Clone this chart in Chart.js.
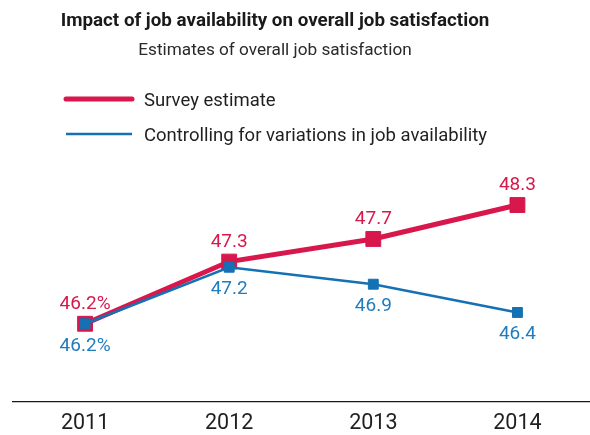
<!DOCTYPE html>
<html>
<head>
<meta charset="utf-8">
<script src="https://cdn.jsdelivr.net/npm/chart.js@4.4.1/dist/chart.umd.min.js"></script>
<style>
  html, body { margin: 0; padding: 0; background: #fff; overflow: hidden; }
  #wrap { width: 590px; height: 435px; overflow: hidden; }
</style>
</head>
<body>
<div id="wrap"><canvas id="myChart" width="601" height="446"></canvas></div>
<script>
const years = ['2011', '2012', '2013', '2014'];
const surveyEstimate = [46.2, 47.3, 47.7, 48.3];
const controlledEstimate = [46.2, 47.2, 46.9, 46.4];
const seriesNames = ['Survey estimate', 'Controlling for variations in job availability'];

const RED = '#d8174c';
const BLUE = '#1471b4';
const FONT = 'Roboto, "DejaVu Sans", sans-serif';

// first point carries the % sign, the rest are plain numbers
function fmt(v, i) {
  return i === 0 ? v.toFixed(1) + '%' : v.toFixed(1);
}

// title, subtitle and the line legend at the top
const headerPlugin = {
  id: 'header',
  afterDraw(chart) {
    const ctx = chart.ctx;
    ctx.save();
    ctx.textAlign = 'center';
    ctx.textBaseline = 'alphabetic';
    ctx.fillStyle = '#1a1a1a';
    ctx.font = 'bold 18.8px ' + FONT;
    ctx.fillText('Impact of job availability on overall job satisfaction', 275, 26);
    ctx.fillStyle = '#2a2a2a';
    ctx.font = '17.2px ' + FONT;
    ctx.fillText('Estimates of overall job satisfaction', 275, 55);

    const rows = [
      { y: 99, width: 5, color: RED, cap: 'round' },
      { y: 134, width: 2.5, color: BLUE, cap: 'butt' }
    ];
    ctx.textAlign = 'left';
    ctx.font = '18.5px ' + FONT;
    chart.data.datasets.forEach((ds, i) => {
      const r = rows[i];
      ctx.beginPath();
      ctx.lineCap = r.cap;
      ctx.strokeStyle = r.color;
      ctx.lineWidth = r.width;
      ctx.moveTo(66, r.y);
      ctx.lineTo(132, r.y);
      ctx.stroke();
      ctx.fillStyle = '#1f1f1f';
      ctx.fillText(ds.label, 144, r.y + 7);
    });
    ctx.restore();
  }
};

// value labels: red ones above the points, blue ones below
const valueLabels = {
  id: 'valueLabels',
  afterDatasetsDraw(chart) {
    const ctx = chart.ctx;
    ctx.save();
    ctx.font = '19px ' + FONT;
    ctx.textAlign = 'center';
    ctx.textBaseline = 'alphabetic';
    chart.data.datasets.forEach((ds, di) => {
      const meta = chart.getDatasetMeta(di);
      const dy = di === 0 ? -15 : 27;
      ctx.fillStyle = ds.labelColor;
      meta.data.forEach((pt, i) => {
        ctx.fillText(fmt(ds.data[i], i), pt.x, pt.y + dy);
      });
    });
    ctx.restore();
  }
};

const ctx = document.getElementById('myChart').getContext('2d');
const myChart = new Chart(ctx, {
  type: 'line',
  data: {
    labels: years,
    datasets: [{
      label: seriesNames[0],
      data: surveyEstimate,
      borderColor: RED,
      backgroundColor: RED,
      labelColor: '#d8174c',
      borderWidth: 5,
      pointStyle: 'rect',
      pointRadius: 10.5,
      pointBorderWidth: 1,
      pointBackgroundColor: RED,
      pointBorderColor: RED,
      tension: 0,
      order: 2
    }, {
      label: seriesNames[1],
      data: controlledEstimate,
      borderColor: BLUE,
      backgroundColor: BLUE,
      labelColor: '#1f7cbd',
      borderWidth: 2.5,
      pointStyle: 'rect',
      pointRadius: 7,
      pointBorderWidth: 1,
      pointBackgroundColor: BLUE,
      pointBorderColor: BLUE,
      tension: 0,
      order: 1
    }]
  },
  options: {
    responsive: false,
    animation: false,
    layout: { padding: { top: 170, left: 13, right: 0, bottom: 0 } },
    plugins: {
      legend: { display: false },
      tooltip: { enabled: false }
    },
    scales: {
      x: {
        offset: true,
        grid: { display: false, drawTicks: false },
        border: { display: true, color: '#1a1a1a', width: 1.2 },
        ticks: { color: '#1f1f1f', font: { family: FONT, size: 21.5 }, padding: 9.5 }
      },
      y: {
        display: false,
        min: 44.83,
        max: 48.92
      }
    }
  },
  plugins: [headerPlugin, valueLabels]
});
</script>
</body>
</html>
